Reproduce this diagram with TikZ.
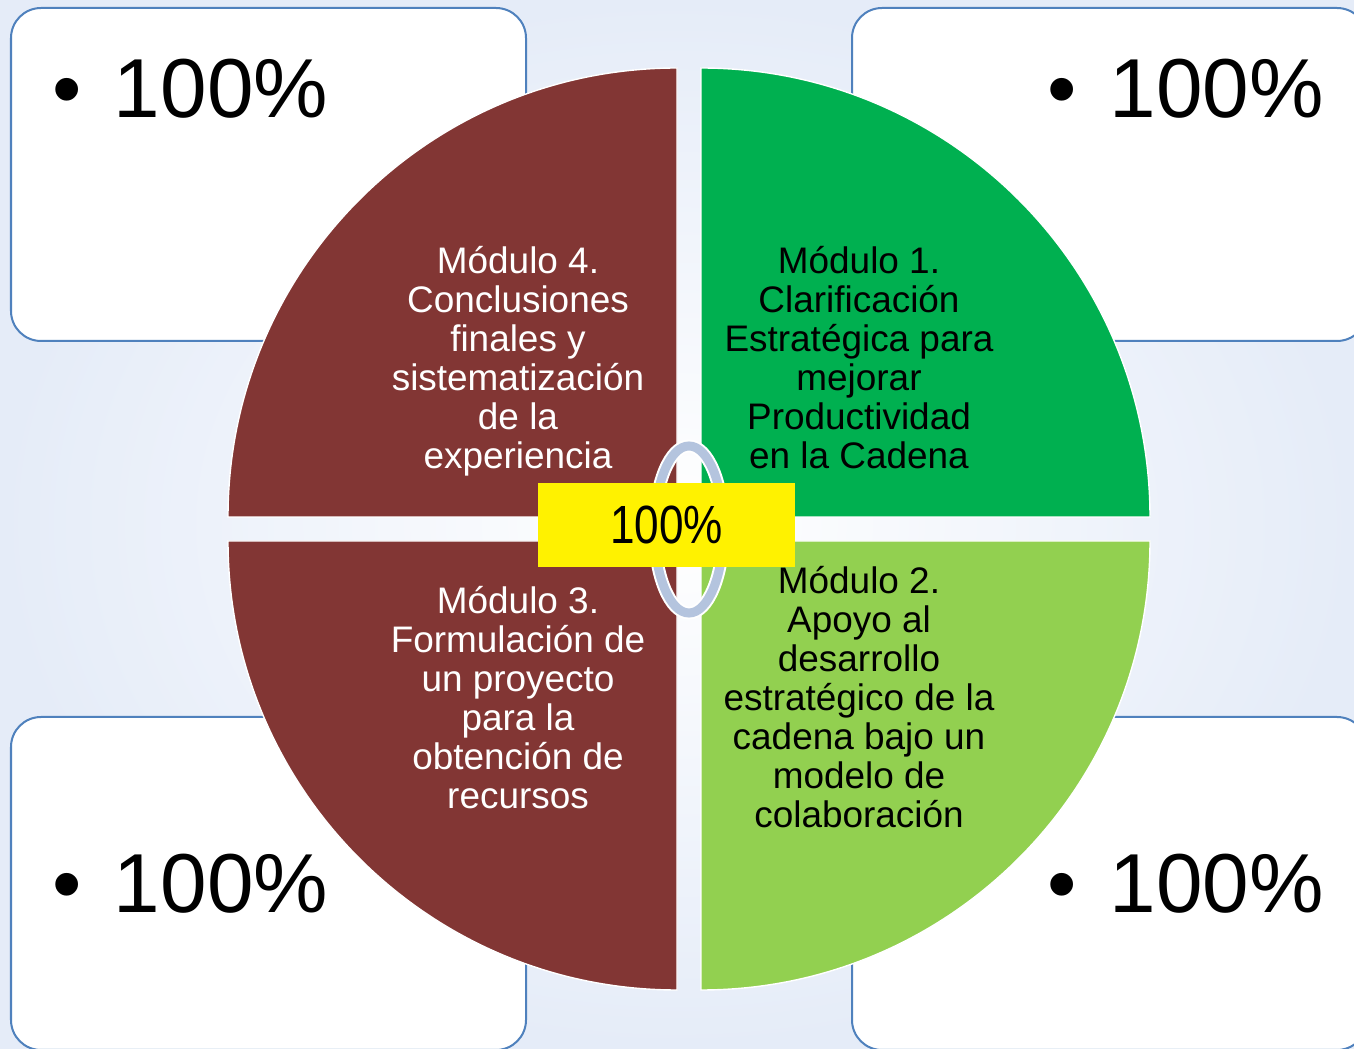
\documentclass[tikz,border=0pt]{standalone}
\usepackage{fontspec}
\setmainfont{Liberation Sans}
\definecolor{ringblue}{RGB}{180,196,222}
\definecolor{boxline}{RGB}{79,129,189}
\definecolor{brownmod}{RGB}{130,54,52}
\definecolor{greenmod}{RGB}{0,176,80}
\definecolor{limemod}{RGB}{146,208,80}
\definecolor{bgblue}{RGB}{229,236,248}
\tikzset{
  valbox/.style={draw=boxline, line width=0.57pt, fill=white, rounded corners=0.3cm},
  quarter/.style={draw=white, line width=0.4pt},
  modtext/.style={align=center, inner sep=0pt, font=\fontsize{10.5}{11.1}\selectfont},
  bigval/.style={anchor=base west, inner sep=0pt, font=\fontsize{23.8}{28}\selectfont}
}

\begin{document}
\begin{tikzpicture}[x=0.01cm, y=0.01cm]
		\useasboundingbox (0,0) rectangle (1354,1048);
		\clip (0,0) rectangle (1354,1048);
		\shade [inner color=white, outer color=bgblue] (0,0) rectangle (1354,1048);
		\draw [valbox] (11,1040) rectangle (526,707);
		\draw [valbox] (852,1040) rectangle (1367,707);
		\draw [valbox] (11,331) rectangle (526,-2);
		\draw [valbox] (852,331) rectangle (1367,-2);
		\node [bigval] (val4) at (52,930) {\textbullet\hspace{9.1pt}100\%};
		\node [bigval] (val1) at (1047,930) {\textbullet\hspace{9.3pt}100\%};
		\node [bigval] (val3) at (52,136) {\textbullet\hspace{9.1pt}100\%};
		\node [bigval] (val2) at (1047,136) {\textbullet\hspace{9.3pt}100\%};
		\fill [quarter, fill=brownmod] (677,531) -- ++(0,449) arc [start angle=90, end angle=180, radius=449] -- cycle;
		\fill [quarter, fill=greenmod] (701,531) -- ++(449,0) arc [start angle=0, end angle=90, radius=449] -- cycle;
		\fill [quarter, fill=brownmod] (677,507) -- ++(-449,0) arc [start angle=180, end angle=270, radius=449] -- cycle;
		\fill [quarter, fill=limemod] (701,507) -- ++(0,-449) arc [start angle=270, end angle=360, radius=449] -- cycle;
		\draw [white, line width=0.13cm] (689,518.5) ellipse [x radius=34.5, y radius=83.5];
		\draw [ringblue, line width=0.09cm] (689,518.5) ellipse [x radius=34.5, y radius=83.5];
		\node [fill=yellow, minimum width=2.57cm, minimum height=0.84cm, inner sep=0pt, font=\fontsize{15.3}{18}\selectfont] (total) at (666.5,523) {\scalebox{0.82}[1]{100\%}};
		\node [modtext, text=white] (mod4) at (518,687) {Módulo 4.\\Conclusiones\\finales y\\sistematización\\de la\\experiencia};
		\node [modtext] (mod1) at (859,690.5) {Módulo 1.\\Clarificación\\Estratégica para\\mejorar\\Productividad\\en la Cadena};
		\node [modtext, text=white] (mod3) at (518,350.5) {Módulo 3.\\Formulación de\\un proyecto\\para la\\obtención de\\recursos};
		\node [modtext] (mod2) at (859,351) {Módulo 2.\\Apoyo al\\desarrollo\\estratégico de la\\cadena bajo un\\modelo de\\colaboración};
	\end{tikzpicture}
\end{document}
